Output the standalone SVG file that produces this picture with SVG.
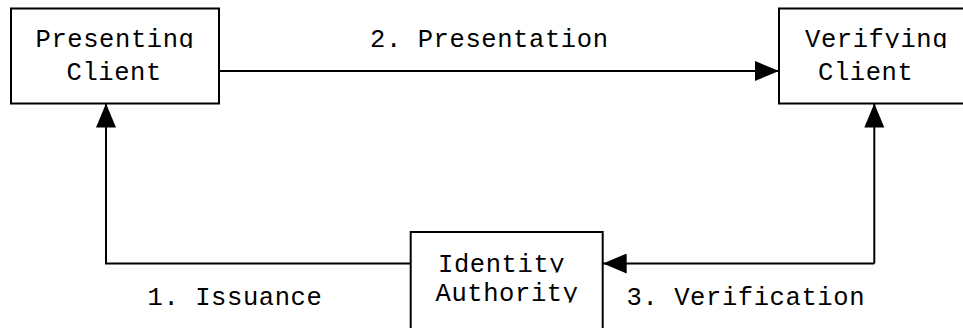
<svg xmlns="http://www.w3.org/2000/svg" width="963" height="328" viewBox="0 0 963 328">
<style>
.box{fill:#fff;stroke:#000;stroke-width:2}
.ln{fill:none;stroke:#000;stroke-width:2}
text{font-family:"Liberation Mono","DejaVu Sans Mono",monospace;font-size:25.5px;letter-spacing:0.6px;fill:#000}
</style>
<defs>
<marker id="ah" viewBox="0 0 24 20" refX="24" refY="10" markerWidth="24" markerHeight="20" markerUnits="userSpaceOnUse" orient="auto">
<path d="M0,0 L24,10 L0,20 Z" fill="#000"/>
</marker>
<clipPath id="c1"><rect x="0" y="0" width="963" height="48"/></clipPath>
<clipPath id="c2"><rect x="0" y="0" width="963" height="272.5"/></clipPath>
<clipPath id="c3"><rect x="0" y="273" width="963" height="29.5"/></clipPath>
</defs>
<g id="connectors">
<path class="ln" d="M219,71 H779" marker-end="url(#ah)"/>
<path class="ln" d="M410.7,263.5 H106 V103.5" marker-end="url(#ah)"/>
<path class="ln" d="M874.3,263.5 H602.7" marker-end="url(#ah)"/>
<path class="ln" d="M874.3,263.5 V103.5" marker-end="url(#ah)"/>
<text x="370" y="47">2. Presentation</text>
<text x="147.5" y="304.5">1. Issuance</text>
<text x="626.5" y="305">3. Verification</text>
</g>
<g id="presenting">
<rect class="box" x="11" y="8.5" width="208" height="95"/>
<text x="35.5" y="47" clip-path="url(#c1)">Presenting</text>
<text x="66.5" y="80">Client</text>
</g>
<g id="verifying">
<rect class="box" x="779" y="8.5" width="208" height="95"/>
<text x="805" y="47" clip-path="url(#c1)">Verifying</text>
<text x="818" y="80">Client</text>
</g>
<g id="authority">
<rect class="box" x="410.7" y="232" width="192" height="120"/>
<text x="438" y="271.5" clip-path="url(#c2)">Identity</text>
<text x="435.5" y="301" clip-path="url(#c3)">Authority</text>
</g>
</svg>
